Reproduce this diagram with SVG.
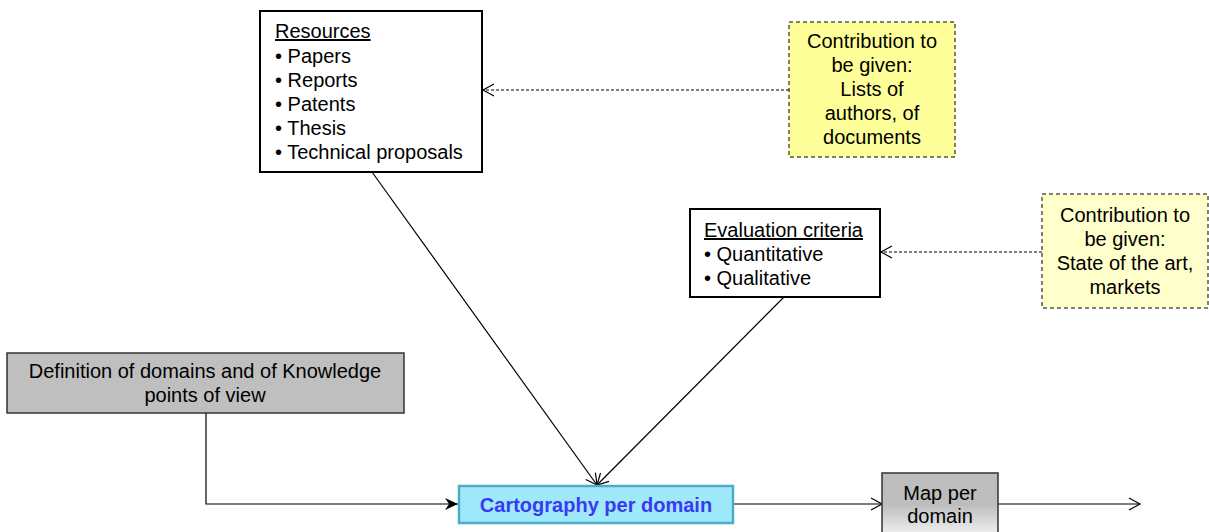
<svg xmlns="http://www.w3.org/2000/svg" width="1209" height="532" viewBox="0 0 1209 532">
<style>
text{font-family:"Liberation Sans",Arial,sans-serif;font-size:20px;fill:#000}
.c{text-anchor:middle}
.box{fill:#fff;stroke:#000;stroke-width:2}
.note{stroke:#000;stroke-width:1;stroke-dasharray:4,3}
.ln{fill:none;stroke:#000;stroke-width:1.2}
.dash{fill:none;stroke:#000;stroke-width:1;stroke-dasharray:3,2}
.grey{fill:#bfbfbf;stroke:#333;stroke-width:1.5}
</style>
<defs>
<marker id="open" markerWidth="14" markerHeight="14" refX="12" refY="7" orient="auto" markerUnits="userSpaceOnUse">
<path d="M1,1 L12,7 L1,13" fill="none" stroke="#000" stroke-width="1.2"/>
</marker>
<marker id="filled" markerWidth="14" markerHeight="12" refX="13" refY="6" orient="auto" markerUnits="userSpaceOnUse">
<path d="M0,0 L13,6 L0,12 L4,6 Z" fill="#000"/>
</marker>
<linearGradient id="mapg" x1="0" y1="0" x2="0" y2="1">
<stop offset="0" stop-color="#bdbdbd"/>
<stop offset="0.45" stop-color="#bdbdbd"/>
<stop offset="1" stop-color="#ffffff"/>
</linearGradient>
</defs>
<g id="connectors">
<path class="ln" d="M372,172 L597,485" marker-end="url(#open)"/>
<path class="ln" d="M784,297 L597,485" marker-end="url(#open)"/>
<path class="ln" d="M206,413 L206,504 L458,504" marker-end="url(#filled)"/>
<path class="ln" d="M733,504 L882,504" marker-end="url(#open)"/>
<path class="ln" d="M998,504 L1140,504" marker-end="url(#open)"/>
<path class="dash" d="M789,90 L483,90" marker-end="url(#open)"/>
<path class="dash" d="M1042,252 L881,252" marker-end="url(#open)"/>
</g>
<g id="resources">
<rect class="box" x="260" y="11" width="222" height="161"/>
<text x="275" y="38" text-decoration="underline">Resources</text>
<text x="275" y="63">• Papers</text>
<text x="275" y="87">• Reports</text>
<text x="275" y="111">• Patents</text>
<text x="275" y="135">• Thesis</text>
<text x="275" y="159">• Technical proposals</text>
</g>
<g id="contribution1">
<rect class="note" x="789" y="22" width="166" height="135" fill="#ffff99"/>
<text class="c" x="872" y="48">Contribution to</text>
<text class="c" x="872" y="72">be given:</text>
<text class="c" x="872" y="96">Lists of</text>
<text class="c" x="872" y="120">authors, of</text>
<text class="c" x="872" y="144">documents</text>
</g>
<g id="evaluation">
<rect class="box" x="690" y="209" width="190" height="88"/>
<text x="704" y="237" text-decoration="underline">Evaluation criteria</text>
<text x="704" y="261">• Quantitative</text>
<text x="704" y="285">• Qualitative</text>
</g>
<g id="contribution2">
<rect class="note" x="1042" y="194" width="166" height="114" fill="#ffffcc"/>
<text class="c" x="1125" y="222">Contribution to</text>
<text class="c" x="1125" y="246">be given:</text>
<text class="c" x="1125" y="270">State of the art,</text>
<text class="c" x="1125" y="294">markets</text>
</g>
<g id="definition">
<rect class="grey" x="7" y="353" width="397" height="60"/>
<text class="c" x="205" y="378">Definition of domains and of Knowledge</text>
<text class="c" x="205" y="402">points of view</text>
</g>
<g id="cartography">
<rect x="459" y="486" width="274" height="37" fill="#9fe9fb" stroke="#4aaec6" stroke-width="2.5"/>
<text class="c" x="596" y="512" font-weight="bold" style="fill:#3a3af0">Cartography per domain</text>
</g>
<g id="map">
<rect x="882" y="473" width="116" height="70" fill="url(#mapg)" stroke="#333" stroke-width="1.5"/>
<text class="c" x="940" y="500">Map per</text>
<text class="c" x="940" y="523">domain</text>
</g>
</svg>
